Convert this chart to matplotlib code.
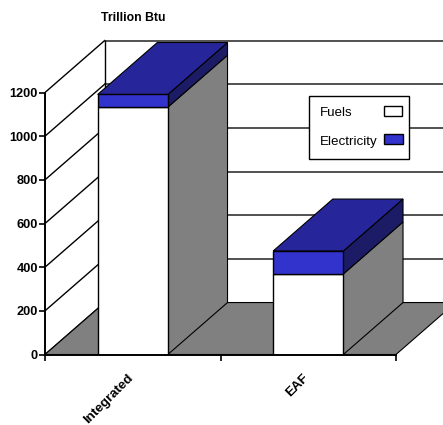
import matplotlib
matplotlib.use('Agg')
import matplotlib.pyplot as plt
from matplotlib.patches import Rectangle
from matplotlib.transforms import ScaledTranslation

plt.rcParams['font.family'] = ['Liberation Sans', 'DejaVu Sans']

categories = ['Integrated', 'EAF']
fuels = [1133, 369]
electricity = [58, 105]
y_ticks = [0, 200, 400, 600, 800, 1000, 1200]

# depth of the fake 3d box, in data units
depth_x = 0.34
depth_y = 238
bar_w = 0.4

WHITE = '#ffffff'
GREY = '#808080'
BLUE = '#3232cc'
BLUE_TOP = '#26269a'
BLUE_SIDE = '#1c1c66'

fig = plt.figure(figsize=(4.43, 4.25), dpi=100)
ax = fig.add_axes([45 / 443, 70.5 / 425, 398 / 443, 354.5 / 425])
ax.set_xlim(0, 398 / 175.5)
ax.set_ylim(0, 354.5 / 262 * 1200)
xmax = ax.get_xlim()[1] + depth_x

# walls
for v in y_ticks:
    ax.plot([0, depth_x], [v, v + depth_y], color='black', lw=1, zorder=1)
    ax.plot([depth_x, xmax], [v + depth_y, v + depth_y], color='#222222', lw=1.1, zorder=1)
ax.plot([depth_x, depth_x], [depth_y, 1200 + depth_y], color='black', lw=1, zorder=1)

# floor
ax.fill([0, 2, 2 + depth_x, depth_x], [0, 0, depth_y, depth_y], facecolor=GREY,
        edgecolor='black', lw=0.8, zorder=2)

for i, name in enumerate(categories):
    x0 = i + 0.5 - bar_w / 2
    x1 = i + 0.5 + bar_w / 2
    f = fuels[i]
    t = fuels[i] + electricity[i]
    ax.fill([x1, x1 + depth_x, x1 + depth_x, x1], [0, depth_y, f + depth_y, f],
            facecolor=GREY, edgecolor='black', lw=0.8, zorder=3)
    ax.fill([x1, x1 + depth_x, x1 + depth_x, x1], [f, f + depth_y, t + depth_y, t],
            facecolor=BLUE_SIDE, edgecolor='black', lw=0.8, zorder=3)
    ax.fill([x0, x1, x1 + depth_x, x0 + depth_x], [t, t, t + depth_y, t + depth_y],
            facecolor=BLUE_TOP, edgecolor='black', lw=0.8, zorder=3)

centers = [i + 0.5 for i in range(len(categories))]
ax.bar(centers, fuels, bar_w, color=WHITE, edgecolor='black', lw=1, zorder=4)
ax.bar(centers, electricity, bar_w, bottom=fuels, color=BLUE, edgecolor='black', lw=1, zorder=4)

for s in ['top', 'right']:
    ax.spines[s].set_visible(False)
ax.spines['left'].set_bounds(0, 1200)
ax.spines['bottom'].set_bounds(0, 2)
ax.spines['left'].set_linewidth(1.4)
ax.spines['bottom'].set_linewidth(1.4)
ax.spines['left'].set_zorder(6)
ax.spines['bottom'].set_zorder(6)

ax.set_yticks(y_ticks)
ax.set_yticklabels([str(v) for v in y_ticks], fontsize=9.2, fontweight='bold')
ax.tick_params(axis='y', length=4, width=1.2, pad=1)
ax.set_xticks([0, 1, 2])
ax.set_xticklabels([])
ax.tick_params(axis='x', which='major', length=4, width=1.2)
ax.set_xticks(centers, minor=True)
labels = ax.set_xticklabels(categories, minor=True, rotation=45, ha='right', rotation_mode='anchor',
                            fontsize=9.6, fontweight='bold')
ax.tick_params(axis='x', which='minor', length=0, pad=14)
shift = ScaledTranslation(-6 / 100, 2 / 100, fig.dpi_scale_trans)
for lab in labels:
    lab.set_transform(lab.get_transform() + shift)

# legend box, text on the left and swatch on the right like the original
def fx(px):
    return px / 443

def fy(px):
    return 1 - px / 425

fig.add_artist(Rectangle((fx(309), fy(159)), 100 / 443, 63 / 425, transform=fig.transFigure,
                         facecolor='white', edgecolor='black', lw=1, zorder=8))
fig.add_artist(Rectangle((fx(383.5), fy(115.5)), 18 / 443, 9.5 / 425, transform=fig.transFigure,
                         facecolor=WHITE, edgecolor='black', lw=1, zorder=9))
fig.add_artist(Rectangle((fx(383.5), fy(144)), 19 / 443, 10 / 425, transform=fig.transFigure,
                         facecolor=BLUE, edgecolor='black', lw=1, zorder=9))
fig.text(fx(320), fy(113.5), 'Fuels', ha='left', va='center', fontsize=9.6, zorder=9)
fig.text(fx(320), fy(142.5), 'Electricity', ha='left', va='center', fontsize=9.6, zorder=9)

fig.text(133 / 443, fy(18), 'Trillion Btu', ha='center', va='center', fontsize=8.8,
         fontweight='bold')

fig.savefig('out.png', dpi=100)
